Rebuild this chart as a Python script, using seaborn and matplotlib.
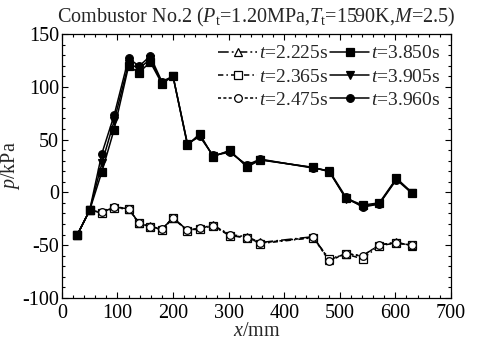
import matplotlib
matplotlib.use("Agg")
import matplotlib.pyplot as plt
import seaborn as sns
import numpy as np
from matplotlib.ticker import MultipleLocator

# ---- data ----
x_mm = [28, 50, 72, 94, 120, 139, 159, 180, 200, 226, 248, 272, 302, 333, 357, 452, 481, 511, 541, 571, 602, 630]

p_2225 = [-40, -17, -19, -14, -15.5, -29, -32, -35, -24, -36, -34, -31, -40, -42, -47.5, -42, -64, -58, -60, -50, -47, -51]
p_2365 = [-40, -17, -19.5, -14.5, -16, -29.5, -32.5, -35.5, -24.5, -36.5, -34.5, -32, -41, -43, -48.5, -43, -63, -58.5, -63, -50.5, -48, -50]
p_2475 = [-40, -17, -19, -13.5, -15.5, -29, -32.5, -35, -24, -36, -34, -31.5, -40.5, -43, -48, -42.5, -65, -58, -60.5, -49.5, -48, -50]
p_3850 = [-40, -17, 19.5, 59.5, 119.5, 113.5, 123.5, 103, 110, 44.7, 55.5, 33.8, 39.8, 24, 30.7, 23.7, 19.6, -5.6, -12, -10, 13.3, -0.3]
p_3905 = [-40, -17, 27.5, 67.5, 122, 117.5, 126, 104, 110, 45.5, 54, 34.5, 39, 25, 31, 23.5, 20, -6, -13, -11, 13, -0.5]
p_3960 = [-40, -17, 36.8, 73, 127, 119.7, 129, 105, 110, 46, 53, 35, 38, 26, 31.5, 23, 20.5, -4.5, -14, -11, 12, -1]

labels = ["2.225", "2.365", "2.475", "3.850", "3.905", "3.960"]
xticks = [0, 100, 200, 300, 400, 500, 600, 700]
yticks = [-100, -50, 0, 50, 100, 150]

sns.set_theme(style="ticks")
plt.rcParams["font.family"] = ["Liberation Serif", "DejaVu Serif"]
plt.rcParams["mathtext.fontset"] = "custom"
plt.rcParams["mathtext.rm"] = "Liberation Serif"
plt.rcParams["mathtext.it"] = "Liberation Serif:italic"
plt.rcParams["axes.unicode_minus"] = False

fig = plt.figure(figsize=(4.87, 3.44), dpi=100)
ax = fig.add_axes([0.127, 0.134, 0.799, 0.767])

series = [
    (p_2225, "^", "none", (0, (7, 2, 1.2, 2))),
    (p_2365, "s", "none", (0, (3.5, 2, 1, 2))),
    (p_2475, "o", "none", (0, (2, 1.5))),
    (p_3850, "s", "black", "-"),
    (p_3905, "v", "black", "-"),
    (p_3960, "o", "black", "-"),
]
for (vals, mk, fc, ls), lab in zip(series, labels):
    sns.lineplot(x=x_mm, y=vals, ax=ax, color="black", marker=mk, markersize=5.5,
                 markerfacecolor=fc if fc != "none" else "white", markeredgecolor="black",
                 markeredgewidth=0.9, linewidth=1.1, linestyle=ls,
                 label=r"$t$=" + lab + "s", legend=False)

ax.set_xlim(0, 700)
ax.set_ylim(-100, 150)
ax.set_xticks(xticks)
ax.set_yticks(yticks)
ax.xaxis.set_minor_locator(MultipleLocator(20))
ax.yaxis.set_minor_locator(MultipleLocator(10))
ax.tick_params(which="both", direction="in", top=True, right=True, labelsize=14.5, colors="black")
ax.tick_params(axis="y", pad=2)
ax.tick_params(axis="x", pad=4.5)
ax.tick_params(which="major", length=4, width=0.8)
ax.tick_params(which="minor", length=2.5, width=0.8)
for s in ax.spines.values():
    s.set_linewidth(0.9)
    s.set_color("black")

ax.set_xlabel(r"$x$/mm", fontsize=14.5, labelpad=-1)
ax.set_ylabel(r"$p$/kPa", fontsize=14.5, labelpad=0)
ax.set_title(r"Combustor No.2 ($P_\mathrm{t}$=1.20MPa,$T_\mathrm{t}$=1590K,$M$=2.5)", fontsize=14.5, pad=8)

handles, labs = ax.get_legend_handles_labels()
ax.legend(handles, labs, ncol=2, loc="upper right", bbox_to_anchor=(1.0, 1.0), frameon=False,
          fontsize=14, handlelength=2.0, handletextpad=0.1, columnspacing=0.1, labelspacing=0.3,
          borderaxespad=0.15)

fig.savefig("out.png", dpi=100)
